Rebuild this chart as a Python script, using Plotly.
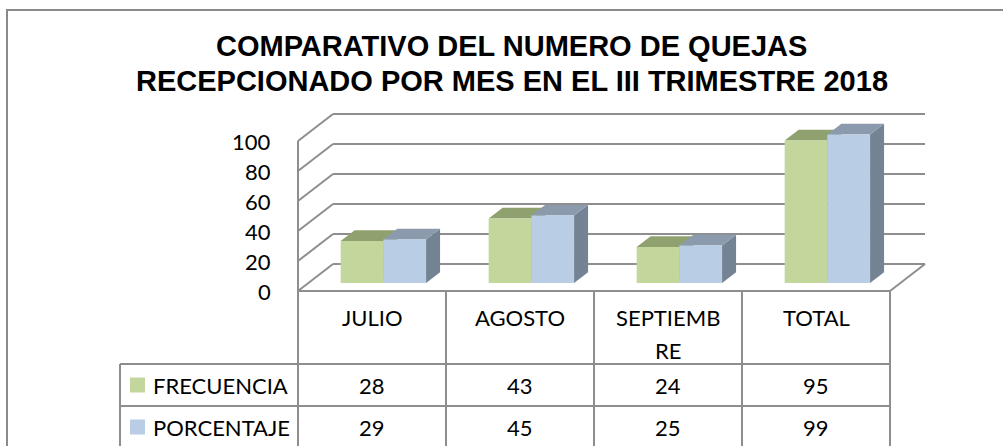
import plotly.graph_objects as go

# ---------------- data ----------------
categories = ["JULIO", "AGOSTO", "SEPTIEMBRE", "TOTAL"]
header_labels = ["JULIO", "AGOSTO", "SEPTIEMB<br>RE", "TOTAL"]
series_names = ["FRECUENCIA", "PORCENTAJE"]
frecuencia = [28, 43, 24, 95]
porcentaje = [29, 45, 25, 99]
y_ticks = [0, 20, 40, 60, 80, 100]
title_lines = ["COMPARATIVO DEL NUMERO DE QUEJAS",
               "RECEPCIONADO POR MES EN EL III TRIMESTRE 2018"]

series_values = [frecuencia, porcentaje]
front_colors = ["#C3D69B", "#B9CDE5"]
top_colors = ["#8FA16E", "#8C9AAE"]
side_colors = ["#7C8D5E", "#748393"]

# ---------------- geometry (pixel layout) ----------------
W, H = 1003, 446
FRONT_X_PX, FLOOR_Y_PX = 298, 291      # front-left-bottom corner of the 3D box
CAT_PX, VAL_PX = 148, 1.5              # px per category, px per value unit
DEPTH_DX_PX, DEPTH_DY_PX = 35, 27      # perspective depth vector
GRID = "#8E8E8E"
TXT_FONT = "Lato"


def px_to_x(px):
    return (px - FRONT_X_PX) / CAT_PX


def py_to_y(py):
    return (FLOOR_Y_PX - py) / VAL_PX


DX = DEPTH_DX_PX / CAT_PX
DY = DEPTH_DY_PX / VAL_PX
N = len(categories)
VMAX = max(y_ticks)


def proj(x, v, d):
    return x + d * DX, v + d * DY


shapes = []


def line(p0, p1, color=GRID, width=2, layer="below"):
    shapes.append(dict(type="line", xref="x", yref="y", x0=p0[0], y0=p0[1],
                       x1=p1[0], y1=p1[1], line=dict(color=color, width=width),
                       layer=layer))


def poly(points, color):
    path = "M " + " L ".join(f"{x},{y}" for x, y in points) + " Z"
    shapes.append(dict(type="path", xref="x", yref="y", path=path,
                       fillcolor=color, line=dict(width=0), layer="below"))


# walls / gridlines
for v in y_ticks:
    line(proj(0, v, 0), proj(0, v, 1))          # side wall
    line(proj(0, v, 1), proj(N, v, 1))          # back wall
line(proj(0, VMAX, 0), (0, py_to_y(H + 5)))     # side wall front edge (runs into table)
line(proj(N, 0, 0), proj(N, 0, 1))              # floor right edge

# bars
BAR_FRONT = 0.296
BAR_DEPTH = 0.4
BAR_OFFSET = 32.3 / CAT_PX
BAR_W = 42.7 / CAT_PX
base = BAR_FRONT * DY

traces = []
for s, vals in enumerate(series_values):
    xs = []
    for i, v in enumerate(vals):
        xl = i + BAR_FRONT * DX + BAR_OFFSET + s * BAR_W
        xr = xl + BAR_W
        xs.append(xl + BAR_W / 2)
        bdx, bdy = BAR_DEPTH * DX, BAR_DEPTH * DY
        poly([(xr, base), (xr, base + v), (xr + bdx, base + v + bdy), (xr + bdx, base + bdy)],
             side_colors[s])
        poly([(xl, base + v), (xr, base + v), (xr + bdx, base + v + bdy), (xl + bdx, base + v + bdy)],
             top_colors[s])
    traces.append(go.Bar(x=xs, y=vals, base=base, width=BAR_W, name=series_names[s],
                         marker=dict(color=front_colors[s], line=dict(width=0)),
                         showlegend=False, hoverinfo="skip"))

fig = go.Figure(traces)

annotations = []
# title (two lines)
TITLE_LINE_PX = [46, 81]
for k, t in enumerate(title_lines):
    annotations.append(dict(x=512 / W, y=1 - TITLE_LINE_PX[k] / H, xref="paper", yref="paper",
                            text=f"<b>{t}</b>", showarrow=False, xanchor="center",
                            yanchor="middle",
                            font=dict(family="Liberation Sans", size=29, color="#000000")))

# y tick labels
for v in y_ticks:
    annotations.append(dict(x=px_to_x(273), y=v, xref="x", yref="y", text=str(v),
                            showarrow=False, xanchor="right", yanchor="middle",
                            font=dict(family=TXT_FONT, size=22, color="#000000")))

# data table
HEADER_BOTTOM_PX = 364
ROW_H_PX = 42
LEGEND_LEFT_PX = 120
row_edges = [HEADER_BOTTOM_PX + k * ROW_H_PX for k in range(len(series_names) + 1)]

for py in row_edges:
    line((px_to_x(LEGEND_LEFT_PX), py_to_y(py)), (N, py_to_y(py)), layer="above")
for i in range(1, N + 1):
    line((i, 0), (i, py_to_y(H + 5)), layer="above")
line((px_to_x(LEGEND_LEFT_PX), py_to_y(HEADER_BOTTOM_PX)),
     (px_to_x(LEGEND_LEFT_PX), py_to_y(H + 5)), layer="above")
line((0, 0), (N, 0), layer="above")

HEADER_LINE1_PX = 317
HEADER_LINE_GAP = 33
for i, lab in enumerate(header_labels):
    for k, part in enumerate(lab.split("<br>")):
        annotations.append(dict(x=i + 0.5, y=py_to_y(HEADER_LINE1_PX + k * HEADER_LINE_GAP),
                                xref="x", yref="y", text=part, showarrow=False,
                                xanchor="center", yanchor="middle",
                                font=dict(family=TXT_FONT, size=22, color="#000000")))

for s, (name, vals) in enumerate(zip(series_names, series_values)):
    cy = row_edges[s] + ROW_H_PX / 2
    shapes.append(dict(type="rect", xref="x", yref="y",
                       x0=px_to_x(130), x1=px_to_x(145),
                       y0=py_to_y(cy - 7.5), y1=py_to_y(cy + 7.5),
                       fillcolor=front_colors[s], line=dict(width=0), layer="above"))
    annotations.append(dict(x=px_to_x(151), y=py_to_y(cy), xref="x", yref="y", text=name,
                            showarrow=False, xanchor="left", yanchor="middle",
                            font=dict(family=TXT_FONT, size=22, color="#000000")))
    for i, v in enumerate(vals):
        annotations.append(dict(x=i + 0.5, y=py_to_y(cy), xref="x", yref="y", text=str(v),
                                showarrow=False, xanchor="center", yanchor="middle",
                                font=dict(family=TXT_FONT, size=22, color="#000000")))

# outer chart border
shapes.append(dict(type="rect", xref="paper", yref="paper",
                   x0=7 / W, x1=1.05, y0=-0.05, y1=1 - 10 / H,
                   line=dict(color="#8A8A8A", width=2), layer="above"))

fig.update_layout(
    width=W, height=H, autosize=False,
    margin=dict(l=0, r=0, t=0, b=0, pad=0),
    paper_bgcolor="white", plot_bgcolor="white",
    barmode="overlay",
    xaxis=dict(range=[px_to_x(0), px_to_x(W)], visible=False, fixedrange=True),
    yaxis=dict(range=[py_to_y(H), py_to_y(0)], visible=False, fixedrange=True),
    shapes=shapes,
    annotations=annotations,
)

fig.write_html("out.html", config={"displayModeBar": False},
               post_script="document.body.style.margin='0';document.body.style.overflow='hidden';")
